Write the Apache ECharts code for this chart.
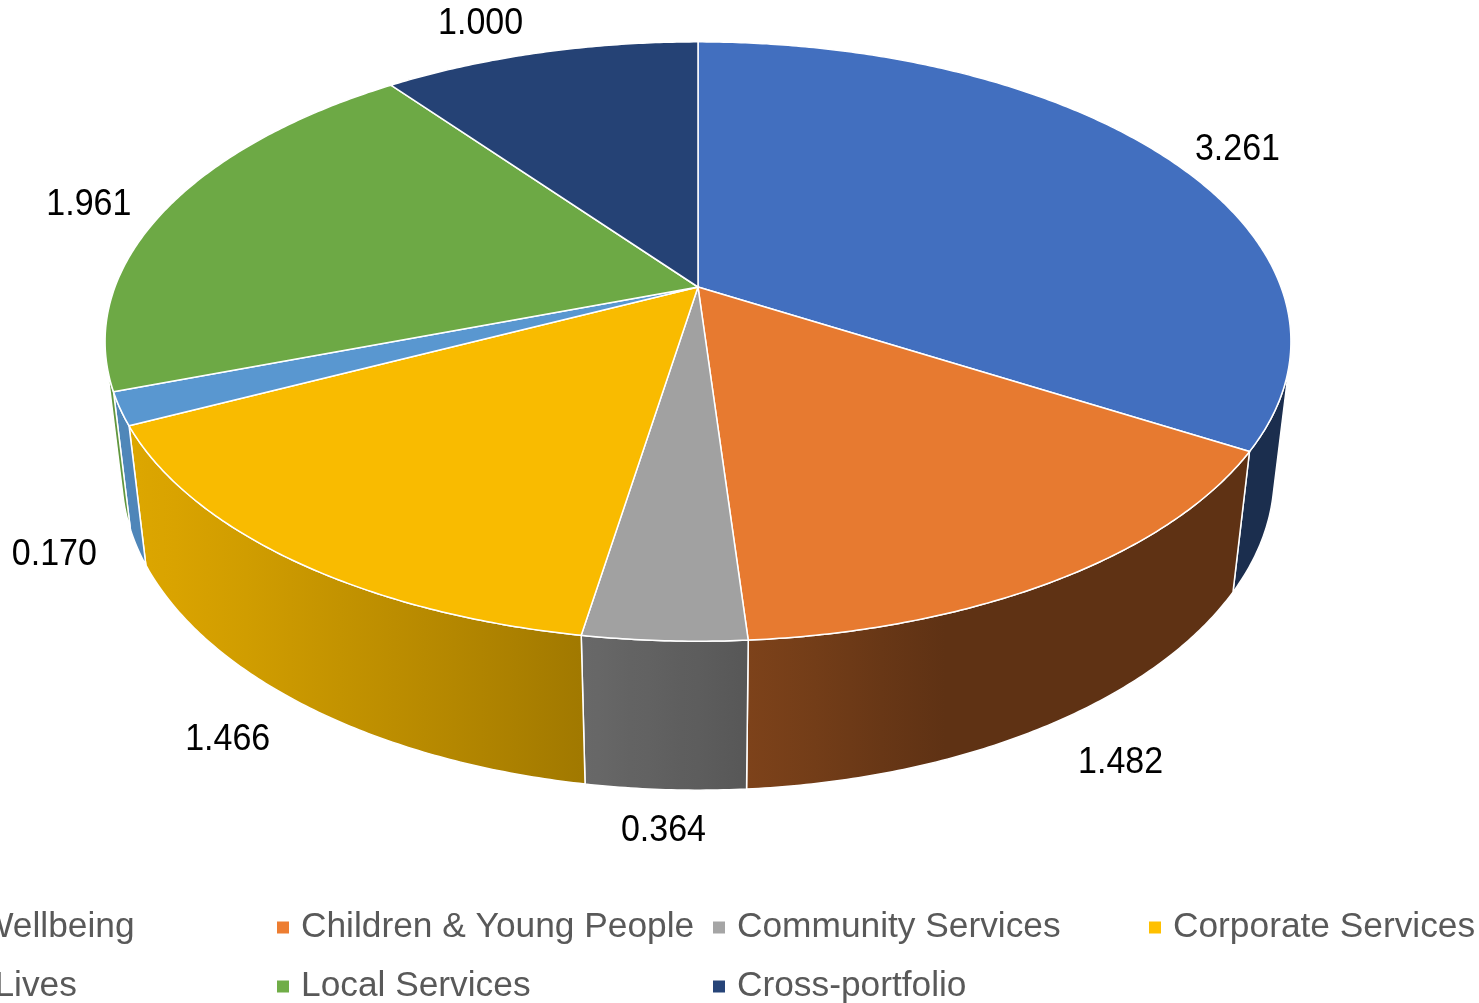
<!DOCTYPE html>
<html>
<head>
<meta charset="utf-8">
<title>Spend by portfolio</title>
<script src="https://cdn.jsdelivr.net/npm/echarts@6/dist/echarts.min.js"></script>
<style>
  html, body { margin: 0; padding: 0; background: #ffffff; }
  #chart { width: 1479px; height: 1003px; }
</style>
</head>
<body>
<div id="chart"></div>
<script>
// Portfolios and their values
const categories = ['Health & Wellbeing', 'Children & Young People', 'Community Services', 'Corporate Services', 'Healthy Lives', 'Local Services', 'Cross-portfolio'];
const values = [3.261, 1.482, 0.364, 1.466, 0.170, 1.961, 1.000];
const colors = ['#4472C4', '#ED7D31', '#A5A5A5', '#FFC000', '#5B9BD5', '#70AD47', '#264478'];

const total = values.reduce((a, b) => a + b, 0);
const starts = [];
values.reduce((acc, v) => { starts.push(acc); return acc + v; }, 0);

// Perspective view of the pie disc: apex position, focal length, camera distance,
// tilt of the disc, disc thickness (in radius units) and label radius.
const VIEW = { cx: 698, cy: 287, f: 2781, d: 4.77, tilt: 29.8 * Math.PI / 180, depth: 0.2687, labelR: 1.05, labelGap: 10 };
const SIN_T = Math.sin(VIEW.tilt), COS_T = Math.cos(VIEW.tilt);
// outer wall faces the camera where the depth coordinate exceeds this
const WALL_LIM = 1 / (VIEW.d * COS_T);
const STEP = 0.5 * Math.PI / 180;

// angle a measured clockwise from the back of the disc, radius r, height z
function project(a, r, z) {
  const x = r * Math.sin(a), yd = -r * Math.cos(a);
  const Y = yd * SIN_T - z * COS_T;
  const Z = yd * COS_T + z * SIN_T;
  const k = VIEW.f / (VIEW.d - Z);
  return [VIEW.cx + x * k, VIEW.cy + Y * k];
}

function shade(hex, k) {
  const n = parseInt(hex.slice(1), 16);
  const r = Math.round(Math.min(255, ((n >> 16) & 255) * k));
  const g = Math.round(Math.min(255, ((n >> 8) & 255) * k));
  const b = Math.round(Math.min(255, (n & 255) * k));
  return 'rgb(' + r + ',' + g + ',' + b + ')';
}

// side-wall lighting, brightest towards the left front
function wallLight(a) {
  return 0.4 + 0.47 * Math.max(0, Math.cos(a - 250 * Math.PI / 180));
}

function renderSlice(i) {
  return function (params, api) {
    const v = api.value(0);
    const a0 = starts[i] / total * 2 * Math.PI;
    const a1 = a0 + v / total * 2 * Math.PI;
    const children = [];

    // top face
    const n = Math.max(2, Math.ceil((a1 - a0) / STEP));
    const top = [project(0, 0, 0)];
    for (let j = 0; j <= n; j++) top.push(project(a0 + (a1 - a0) * j / n, 1, 0));
    children.push({
      type: 'polygon', z2: 10,
      shape: { points: top },
      style: { fill: shade(colors[i], 0.975), stroke: '#ffffff', lineWidth: 1.5, lineJoin: 'round' }
    });

    // visible part of the outer wall
    const lim = Math.acos(-WALL_LIM);
    const w0 = Math.max(a0, lim), w1 = Math.min(a1, 2 * Math.PI - lim);
    if (w1 > w0) {
      const m = Math.max(2, Math.ceil((w1 - w0) / STEP));
      const up = [], down = [];
      for (let j = 0; j <= m; j++) {
        const a = w0 + (w1 - w0) * j / m;
        up.push(project(a, 1, 0));
        down.push(project(a, 1, -VIEW.depth));
      }
      const pts = up.concat(down.slice().reverse());
      const xa = up[0][0], xb = up[m][0];
      let fill;
      if (Math.abs(xb - xa) < 1) {
        fill = shade(colors[i], wallLight((w0 + w1) / 2));
      } else {
        const stops = [];
        for (let j = 0; j <= 10; j++) {
          const a = w0 + (w1 - w0) * j / 10;
          const x = project(a, 1, 0)[0];
          stops.push({ offset: Math.min(1, Math.max(0, (x - xa) / (xb - xa))), color: shade(colors[i], wallLight(a)) });
        }
        fill = { type: 'linear', x: xa, y: 0, x2: xb, y2: 0, global: true, colorStops: stops };
      }
      children.push({
        type: 'polygon', z2: 1,
        shape: { points: pts },
        style: { fill: fill, stroke: '#ffffff', lineWidth: 1.5, lineJoin: 'round' }
      });
    }

    // value label outside the slice
    const am = (a0 + a1) / 2;
    const sx = Math.sin(am), yd = -Math.cos(am);
    const front = yd > WALL_LIM;
    const p = project(am, VIEW.labelR, front ? -VIEW.depth : 0);
    const align = sx > 0.15 ? 'left' : (sx < -0.15 ? 'right' : 'center');
    const dx = align === 'left' ? VIEW.labelGap : (align === 'right' ? -VIEW.labelGap : 0);
    children.push({
      type: 'text', z2: 20,
      x: p[0] + dx, y: p[1],
      scaleY: 1.1,
      style: {
        x: 0, y: 0,
        text: v.toFixed(3),
        fill: '#000000',
        fontSize: 34,
        fontFamily: 'Liberation Sans, Arial, sans-serif',
        align: align,
        verticalAlign: yd > 0.5 ? 'top' : (yd < -0.5 ? 'bottom' : 'middle')
      }
    });
    return { type: 'group', children: children };
  };
}

const chart = echarts.init(document.getElementById('chart'), null, { renderer: 'canvas' });

// the first entry's text is pulled slightly left of its marker
const legendData = categories.map((name, i) => i === 0
  ? { name: name, textStyle: { padding: [0, 30, 0, -23] } }
  : { name: name });

chart.setOption({
  backgroundColor: '#ffffff',
  animation: false,
  legend: {
    left: -165,
    top: 904,
    width: 1760,
    orient: 'horizontal',
    padding: 0,
    icon: 'rect',
    itemWidth: 12,
    itemHeight: 12,
    itemGap: 12,
    selectedMode: false,
    textStyle: {
      fontFamily: 'Liberation Sans, Arial, sans-serif',
      fontSize: 35.3,
      color: '#595959',
      width: 400,
      lineHeight: 47,
      padding: [0, 0, 0, 7]
    },
    data: legendData
  },
  series: categories.map((name, i) => ({
    type: 'custom',
    name: name,
    coordinateSystem: 'none',
    silent: true,
    itemStyle: { color: colors[i] },
    renderItem: renderSlice(i),
    data: [[values[i]]]
  }))
});
</script>
</body>
</html>
